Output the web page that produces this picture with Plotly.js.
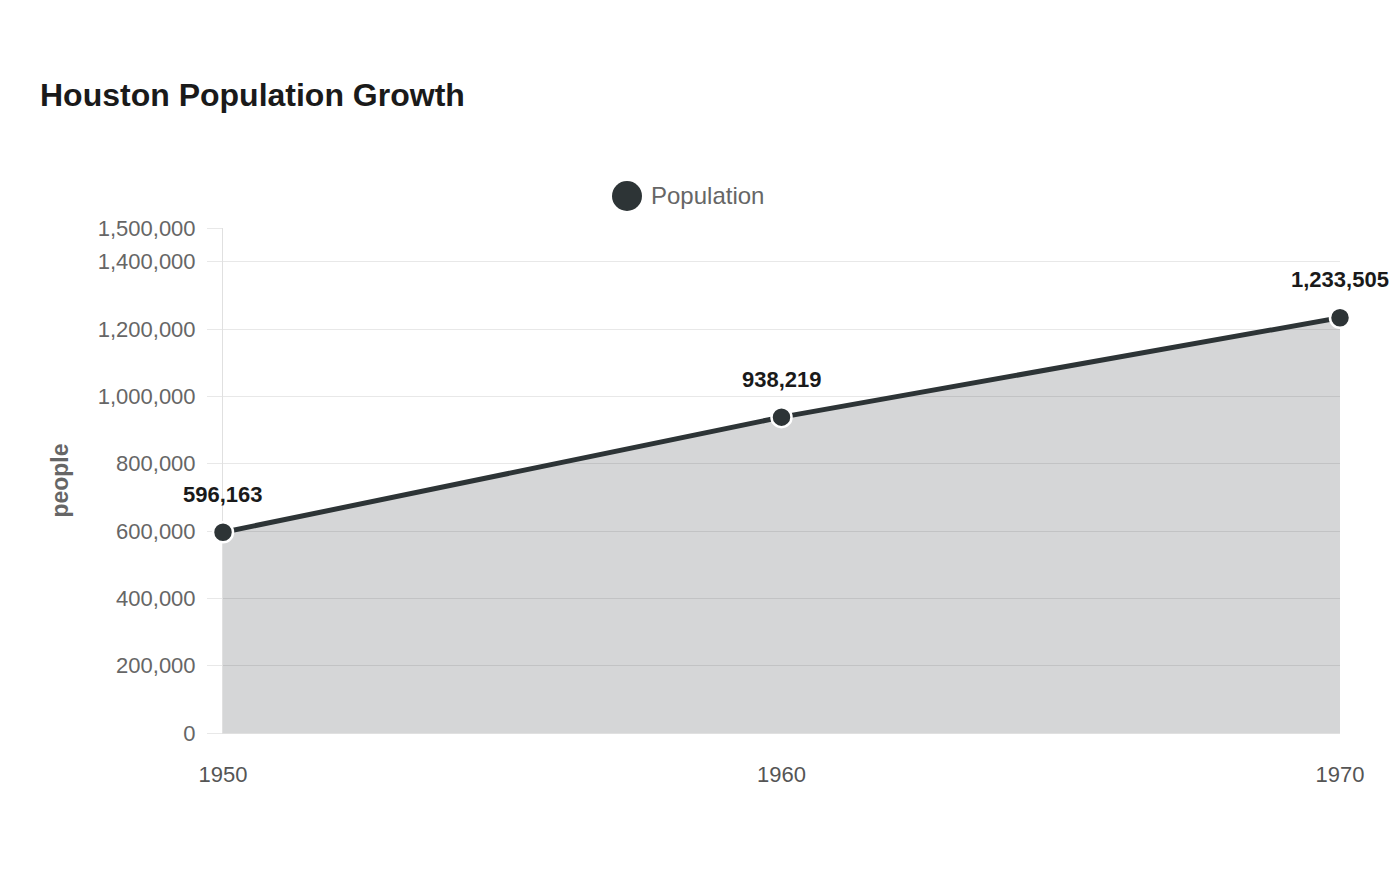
<!DOCTYPE html>
<html>
<head>
<meta charset="utf-8">
<script src="https://cdn.plot.ly/plotly-3.0.1.min.js"></script>
<style>html,body{margin:0;padding:0;background:#fff;}#chart{width:1400px;height:880px;}</style>
</head>
<body>
<div id="chart"></div>
<script>
const years = [1950, 1960, 1970];
const population = [596163, 938219, 1233505];
const seriesName = "Population";
const yTickVals = [0, 200000, 400000, 600000, 800000, 1000000, 1200000, 1400000, 1500000];
const yTickText = ["0", "200,000", "400,000", "600,000", "800,000", "1,000,000", "1,200,000", "1,400,000", "1,500,000"];
const xTickVals = [1950, 1960, 1970];
const xTickText = ["1950", "1960", "1970"];

const FONT = "Liberation Sans, Arial, sans-serif";
const fmt = v => v.toLocaleString("en-US");

const trace = {
  x: years, y: population, name: seriesName, type: "scatter", mode: "lines+markers",
  fill: "tozeroy", fillcolor: "rgba(45,52,54,0.2)",
  line: {color: "#2d3436", width: 5},
  marker: {color: "#2d3436", size: 20, line: {color: "#ffffff", width: 2.5}},
  cliponaxis: false, showlegend: false, hoverinfo: "x+y"
};

const labelAnns = years.map((yr, i) => ({
  x: yr, y: population[i], xref: "x", yref: "y", text: "<b>" + fmt(population[i]) + "</b>",
  showarrow: false, yshift: 38, xanchor: "center", yanchor: "middle",
  font: {family: FONT, size: 22, color: "#1a1a1a"}
}));

const L = 223, R = 1340, T = 228, B = 733;

const layout = {
  width: 1400, height: 880,
  paper_bgcolor: "#ffffff", plot_bgcolor: "#ffffff",
  margin: {l: L, r: 1400 - R, t: T, b: 880 - B, pad: 0},
  font: {family: FONT, color: "#666666"},
  title: {text: "<b>Houston Population Growth</b>", x: 40/1400, xref: "container", xanchor: "left",
          y: 1 - 95/880, yref: "container", yanchor: "middle",
          font: {family: FONT, size: 32, color: "#1a1a1a"}},
  xaxis: {range: [1950, 1970], tickvals: xTickVals, ticktext: xTickText, showgrid: false,
          zeroline: false, showline: true, linecolor: "#e0e0e0", linewidth: 1, ticks: "",
          layer: "below traces",
          ticklabelstandoff: 22, tickfont: {family: FONT, size: 22, color: "#555555"}, fixedrange: true},
  yaxis: {range: [0, 1500000], tickvals: yTickVals, ticktext: yTickText, showgrid: true,
          gridcolor: "#e8e8e8", gridwidth: 1, zeroline: false, showline: true, linecolor: "#e0e0e0",
          linewidth: 1, ticks: "outside", ticklen: 15, tickcolor: "#e8e8e8", tickwidth: 1,
          layer: "below traces",
          ticklabelstandoff: 7, tickfont: {family: FONT, size: 22, color: "#666666"},
          title: {text: "<b>people</b>", standoff: 22, font: {family: FONT, size: 23, color: "#666666"}},
          fixedrange: true},
  showlegend: false,
  shapes: [{type: "circle", xref: "paper", yref: "paper", xsizemode: "pixel", ysizemode: "pixel",
            xanchor: (627-L)/(R-L), yanchor: (B-196)/(B-T), x0: -15, x1: 15, y0: -15, y1: 15,
            fillcolor: "#2d3436", line: {width: 0}}],
  annotations: labelAnns.concat([{
    x: (649-L)/(R-L), y: (B-196)/(B-T), xref: "paper", yref: "paper", text: seriesName,
    showarrow: false, xanchor: "left", yanchor: "middle",
    font: {family: FONT, size: 24, color: "#666666"}
  }])
};

Plotly.newPlot("chart", [trace], layout, {displayModeBar: false});
</script>
</body>
</html>
